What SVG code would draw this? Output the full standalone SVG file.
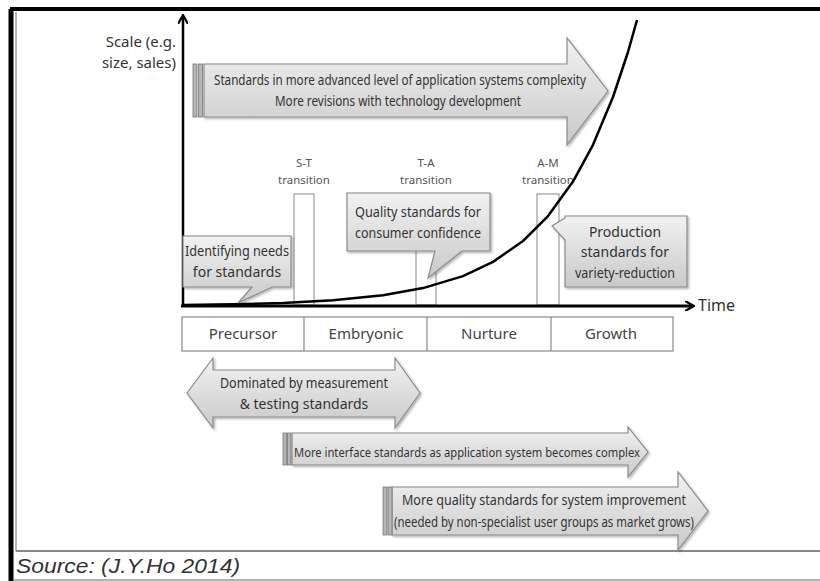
<svg xmlns="http://www.w3.org/2000/svg" width="820" height="581" viewBox="0 0 820 581">
  <style>
    .t { font-family: "Noto Sans", "Open Sans", "Liberation Sans", sans-serif; fill: #333; }
    .lab { font-size: 14px; text-anchor: middle; }
    .small { font-size: 11.5px; fill: #555; text-anchor: middle; }
    .phase { font-size: 15px; text-anchor: middle; fill: #444; }
    .shape { fill: url(#g); stroke: #8a8a8a; stroke-width: 1.2; filter: url(#sh); }
    .bar { fill: #b5b5b5; stroke: #777; stroke-width: 0.8; }
    .col { fill: #fff; stroke: #888; stroke-width: 1; }
  </style>
  <defs>
    <linearGradient id="g" x1="0" y1="0" x2="0" y2="1">
      <stop offset="0" stop-color="#f2f2f2"/>
      <stop offset="1" stop-color="#c9c9c9"/>
    </linearGradient>
    <filter id="sh" x="-5%" y="-10%" width="110%" height="125%">
      <feDropShadow dx="1.5" dy="1.5" stdDeviation="1" flood-color="#000" flood-opacity="0.3"/>
    </filter>
    <marker id="ah" markerWidth="10" markerHeight="10" refX="8" refY="5" orient="auto" markerUnits="userSpaceOnUse">
      <path d="M0,0 L9,5 L0,10" fill="none" stroke="#000" stroke-width="2.2"/>
    </marker>
  </defs>

  <rect width="820" height="581" fill="#fff"/>

  <!-- frame -->
  <g id="frame">
    <line x1="10" y1="9" x2="820" y2="9" stroke="#000" stroke-width="4"/>
    <line x1="11" y1="9" x2="11" y2="581" stroke="#000" stroke-width="5"/>
    <line x1="16" y1="12" x2="16" y2="551" stroke="#666" stroke-width="1"/>
    <line x1="16" y1="551" x2="820" y2="551" stroke="#888" stroke-width="2"/>
    <line x1="14" y1="580" x2="820" y2="580" stroke="#999" stroke-width="1.5"/>
  </g>

  <!-- transition columns -->
  <g id="transitions">
    <rect class="col" x="294" y="194" width="20" height="111"/>
    <rect class="col" x="416" y="194" width="20" height="111"/>
    <rect class="col" x="537" y="194" width="22" height="111"/>
    <text class="t small" x="304" y="167">S-T</text>
    <text class="t small" x="304" y="184">transition</text>
    <text class="t small" x="426" y="167">T-A</text>
    <text class="t small" x="426" y="184">transition</text>
    <text class="t small" x="548" y="167">A-M</text>
    <text class="t small" x="548" y="184">transition</text>
  </g>

  <!-- axes and growth curve -->
  <g id="axes">
    <line x1="183" y1="306" x2="183" y2="16" stroke="#000" stroke-width="2.5" marker-end="url(#ah)"/>
    <line x1="181" y1="306" x2="693" y2="306" stroke="#000" stroke-width="3" marker-end="url(#ah)"/>
    <path d="M183,305 L233,304.3 L283,302.9 L333,300.3 L383,295.3 L423,288.1 L463,276.1 L493,261.9 L523,241 L548,216.1 L573,181.6 L593,144.8 L613,97 L628,52 L637,20" fill="none" stroke="#000" stroke-width="2.5" stroke-linejoin="round"/>
    <text class="t" x="176" y="47" font-size="15" text-anchor="end" fill="#444">Scale (e.g.</text>
    <text class="t" x="176" y="68" font-size="15" text-anchor="end" fill="#444">size, sales)</text>
    <text class="t" x="698" y="311" font-size="16" fill="#333">Time</text>
  </g>

  <!-- top arrow -->
  <g id="advanced">
    <path class="shape" d="M204,64 L567,64 L567,38 L608,91 L567,145 L567,117 L204,117 Z"/>
    <rect class="bar" x="193" y="64" width="4" height="53"/>
    <rect class="bar" x="198.5" y="64" width="4" height="53"/>
    <text class="t" x="400" y="85" font-size="15" text-anchor="middle" textLength="372" lengthAdjust="spacingAndGlyphs">Standards in more advanced level of application systems complexity</text>
    <text class="t" x="398" y="106" font-size="15" text-anchor="middle" textLength="246" lengthAdjust="spacingAndGlyphs">More revisions with technology development</text>
  </g>

  <!-- callouts -->
  <g id="needs">
    <path class="shape" d="M183,236 L291,236 L291,287 L272,287 L238,303 L252,287 L183,287 Z"/>
    <text class="t lab" x="237" y="256" textLength="104" lengthAdjust="spacingAndGlyphs">Identifying needs</text>
    <text class="t lab" x="237" y="277">for standards</text>
  </g>
  <g id="quality">
    <path class="shape" d="M347,193 L490,193 L490,251 L462,251 L428,278 L435,251 L347,251 Z"/>
    <text class="t lab" x="418" y="217" textLength="126" lengthAdjust="spacingAndGlyphs">Quality standards for</text>
    <text class="t lab" x="418" y="238" textLength="126" lengthAdjust="spacingAndGlyphs">consumer confidence</text>
  </g>
  <g id="production">
    <path class="shape" d="M565,216 L687,216 L687,287 L565,287 L565,240 L552,226 L565,218 Z"/>
    <text class="t lab" x="625" y="237">Production</text>
    <text class="t lab" x="625" y="257">standards for</text>
    <text class="t lab" x="625" y="278" textLength="100" lengthAdjust="spacingAndGlyphs">variety-reduction</text>
  </g>

  <!-- phases -->
  <g id="phases">
    <rect x="182" y="317" width="491" height="34" fill="#fff" stroke="#888" stroke-width="1.2"/>
    <line x1="304" y1="317" x2="304" y2="351" stroke="#888" stroke-width="1.2"/>
    <line x1="427" y1="317" x2="427" y2="351" stroke="#888" stroke-width="1.2"/>
    <line x1="551" y1="317" x2="551" y2="351" stroke="#888" stroke-width="1.2"/>
    <text class="t phase" x="243" y="339">Precursor</text>
    <text class="t phase" x="366" y="339">Embryonic</text>
    <text class="t phase" x="489" y="339">Nurture</text>
    <text class="t phase" x="611" y="339">Growth</text>
  </g>

  <!-- lower arrows -->
  <g id="measurement">
    <path class="shape" d="M187,393 L213,358 L213,370 L395,370 L395,358 L420,393 L395,428 L395,417 L213,417 L213,428 Z"/>
    <text class="t lab" x="304" y="388" textLength="168" lengthAdjust="spacingAndGlyphs">Dominated by measurement</text>
    <text class="t lab" x="304" y="409">&amp; testing standards</text>
  </g>
  <g id="interface">
    <path class="shape" d="M292,433 L628,433 L628,427 L648,452 L628,477 L628,465 L292,465 Z"/>
    <rect class="bar" x="283" y="433" width="3.5" height="32"/>
    <rect class="bar" x="287.5" y="433" width="3.5" height="32"/>
    <text class="t" x="294" y="457" font-size="13" textLength="346" lengthAdjust="spacingAndGlyphs">More interface standards as application system becomes complex</text>
  </g>
  <g id="improvement">
    <path class="shape" d="M392,487 L678,487 L678,472 L708,511 L678,550 L678,535 L392,535 Z"/>
    <rect class="bar" x="383" y="487" width="4" height="48"/>
    <rect class="bar" x="388" y="487" width="4" height="48"/>
    <text class="t" x="544" y="505" font-size="14" text-anchor="middle" textLength="284" lengthAdjust="spacingAndGlyphs">More quality standards for system improvement</text>
    <text class="t" x="544" y="527" font-size="14" text-anchor="middle" textLength="300" lengthAdjust="spacingAndGlyphs">(needed by non-specialist user groups as market grows)</text>
  </g>

  <text x="16" y="573" font-family="Liberation Sans, sans-serif" font-style="italic" font-size="20" fill="#333" textLength="224" lengthAdjust="spacingAndGlyphs">Source: (J.Y.Ho 2014)</text>
</svg>
